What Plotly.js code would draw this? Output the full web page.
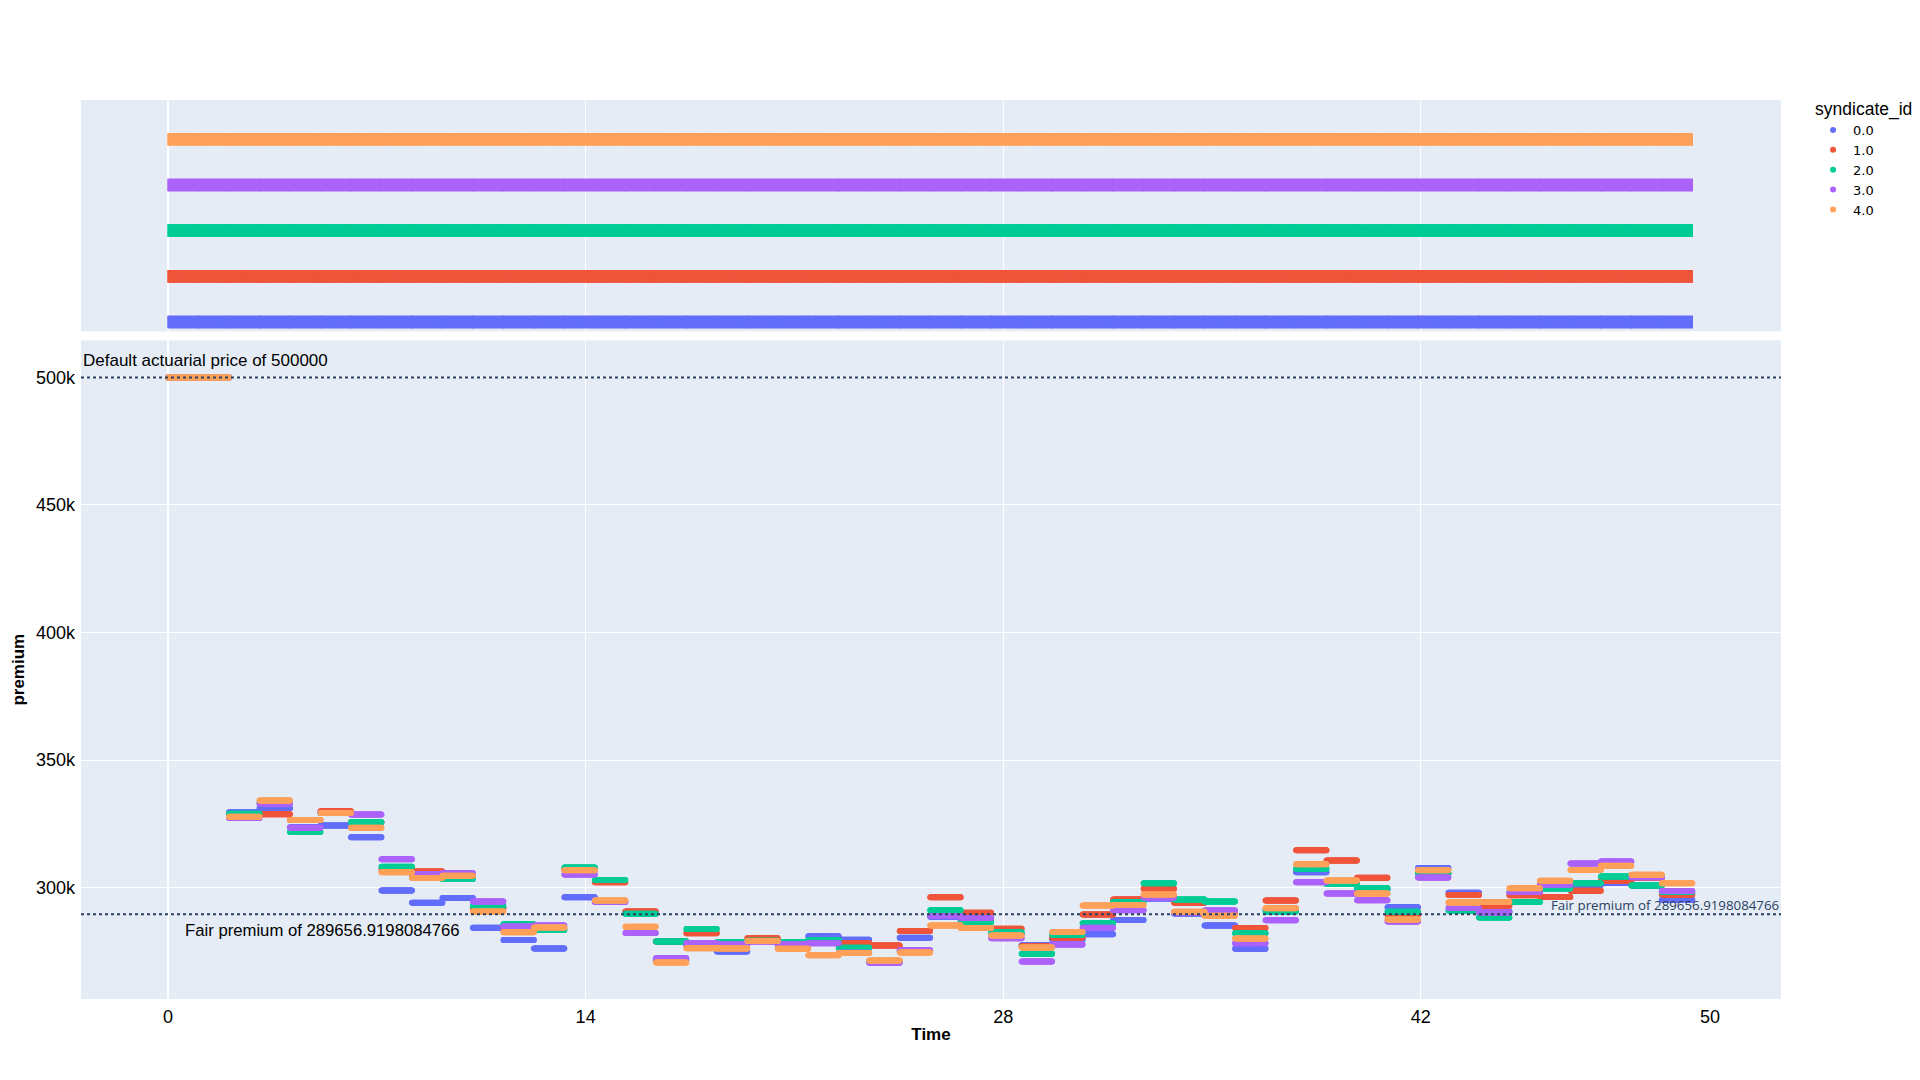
<!DOCTYPE html>
<html>
<head>
<meta charset="utf-8">
<script src="https://cdn.plot.ly/plotly-3.0.1.min.js"></script>
<style>html,body{margin:0;padding:0;background:#fff;}#chart{width:1920px;height:1080px;}</style>
</head>
<body>
<div id="chart"></div>
<script>
// ---- data ----
const syndicateNames = ['0.0', '1.0', '2.0', '3.0', '4.0'];
const syndicateIds = [0, 1, 2, 3, 4];
const colors = ['#636efa', '#EF553B', '#00cc96', '#ab63fa', '#FFA15A'];
const daysPerYear = 365;

// premium per simulated year (years 0..49)
const premium0 = [500000, 500000, 329600, 331200, 323700, 324400, 319800, 298900, 294100, 296000,
  284300, 279500, 276200, 296300, 294600, 290200, 271600, 277400, 275000, 279200,
  277600, 281000, 279600, 271100, 280400, 288600, 287000, 281700, 277500, 279700,
  281800, 287400, 295800, 289900, 285200, 276100, 291500, 306100, 302100, 299300,
  292400, 307700, 298000, 290800, 297900, 300600, 301100, 301900, 300900, 295300];
const premium1 = [500000, 500000, 328300, 328800, 326500, 330000, 325700, 307100, 306400, 304500,
  292000, 284300, 283900, 307100, 302200, 290700, 278900, 282200, 277800, 280200,
  278200, 278400, 278200, 277400, 283000, 296300, 290200, 283900, 277100, 280500,
  289500, 295400, 299600, 294100, 289500, 284200, 295000, 314700, 310700, 303900,
  289400, 305700, 297200, 292900, 297100, 296400, 298800, 302700, 303900, 297400];
const premium2 = [500000, 500000, 329000, 333300, 321800, 329300, 325700, 308200, 304300, 303400,
  292800, 285700, 283400, 307900, 303000, 289800, 278900, 283800, 278600, 279200,
  278700, 279500, 276500, 271200, 275200, 291200, 286500, 282600, 274100, 281600,
  286100, 294400, 301800, 295400, 294600, 282200, 290700, 307400, 301500, 299800,
  290600, 305600, 291100, 288300, 294400, 299700, 301800, 304400, 300900, 298300];
const premium3 = [500000, 500000, 327300, 332900, 323500, 329300, 328700, 311200, 305400, 305700,
  294600, 284800, 285200, 305200, 294400, 282300, 272400, 278200, 277800, 278900,
  277900, 278200, 274500, 270600, 275500, 288900, 288100, 280200, 271100, 277800,
  284300, 291200, 296200, 290300, 291100, 278200, 287300, 302200, 297700, 295100,
  286800, 304000, 292100, 290300, 298300, 301300, 309500, 310300, 304100, 298700];
const premium4 = [500000, 500000, 327800, 334200, 326500, 329300, 323500, 306100, 303800, 304700,
  290700, 282600, 284400, 306900, 295000, 284700, 270700, 276300, 276200, 279100,
  276100, 273500, 274400, 271500, 274600, 285200, 284200, 281300, 276600, 282700,
  293000, 293200, 297400, 290600, 289000, 280100, 292000, 309200, 302800, 297700,
  287600, 306900, 294200, 294400, 299800, 302700, 307000, 308600, 305100, 301800];
const premiums = [premium0, premium1, premium2, premium3, premium4];

const defaultPrice = 500000;
const fairPremium = 289656.9198084766;

// x tick labels
const tickDays = [0, 5000, 10000, 15000];
const tickLabels = ['0', '14', '28', '42'];
const lastLabel = '50';
const lastLabelDay = 18460;

// ---- expand yearly premiums into daily samples (each year is a flat step) ----
const STRIDE = 7;
function expand(values) {
  const xs = [], ys = [];
  values.forEach((v, k) => {
    for (let d = 0; d < daysPerYear; d += STRIDE) { xs.push(k * daysPerYear + d); ys.push(v); }
    xs.push(k * daysPerYear + daysPerYear - 1); ys.push(v);
  });
  return {xs, ys};
}

const traces = [];
premiums.forEach((vals, i) => {
  const e = expand(vals);
  traces.push({
    type: 'scatter', mode: 'markers', x: e.xs, y: e.ys,
    name: syndicateNames[i], legendgroup: syndicateNames[i],
    marker: {color: colors[i], size: 6},
    xaxis: 'x', yaxis: 'y', hoverinfo: 'skip'
  });
});
premiums.forEach((vals, i) => {
  const e = expand(vals);
  traces.push({
    type: 'scatter', mode: 'markers', x: e.xs, y: e.xs.map(() => syndicateIds[i]),
    name: syndicateNames[i], legendgroup: syndicateNames[i], showlegend: false,
    marker: {color: colors[i], size: 9, symbol: 'line-ns-open', line: {color: colors[i], width: 1.5}},
    xaxis: 'x2', yaxis: 'y2', hoverinfo: 'skip'
  });
});

const baseFont = 'Liberation Sans, Arial, Helvetica, sans-serif';
const layout = {
  width: 1920, height: 1080,
  margin: {l: 81, r: 139, t: 100, b: 81, autoexpand: false},
  paper_bgcolor: 'white', plot_bgcolor: '#E5ECF6',
  font: {family: baseFont, size: 16, color: 'black'},
  showlegend: true,
  legend: {
    title: {text: 'syndicate_id', font: {family: baseFont, size: 17.5, color: 'black'}},
    font: {family: 'DejaVu Sans, sans-serif', size: 13, color: 'black'},
    xref: 'container', x: 0.9443, y: 1.0087, xanchor: 'left', yanchor: 'top', tracegroupgap: 0
  },
  xaxis: {
    domain: [0, 1], anchor: 'y',
    range: [-1042, 19312],
    tickmode: 'array', tickvals: tickDays, ticktext: tickLabels,
    tickfont: {size: 18, color: 'black'}, ticklabelstandoff: 5,
    gridcolor: 'white', zeroline: true, zerolinecolor: 'white', zerolinewidth: 2,
    showline: false, ticks: '',
    title: {text: '<b>Time</b>', font: {size: 17, color: 'black'}, standoff: 2}
  },
  xaxis2: {
    domain: [0, 1], anchor: 'y2', matches: 'x',
    tickmode: 'array', tickvals: tickDays, ticktext: tickLabels,
    showticklabels: false, gridcolor: 'white',
    zeroline: true, zerolinecolor: 'white', zerolinewidth: 2, ticks: ''
  },
  yaxis: {
    domain: [0, 0.7326], anchor: 'x',
    range: [256400, 514500], dtick: 50000, tick0: 0,
    tickfont: {size: 18, color: 'black'}, ticklabelstandoff: 5,
    gridcolor: 'white', zeroline: false, ticks: '',
    title: {text: '<b>premium</b>', font: {size: 17, color: 'black'}, standoff: 6}
  },
  yaxis2: {
    domain: [0.7426, 1], anchor: 'x2',
    range: [-0.205, 4.86], showticklabels: false, showgrid: false, zeroline: false, ticks: ''
  },
  shapes: [
    {type: 'line', xref: 'paper', x0: 0, x1: 1, yref: 'y', y0: defaultPrice, y1: defaultPrice,
     line: {color: '#2a3f5f', width: 2, dash: 'dot'}},
    {type: 'line', xref: 'paper', x0: 0, x1: 1, yref: 'y', y0: fairPremium, y1: fairPremium,
     line: {color: '#2a3f5f', width: 2, dash: 'dot'}}
  ],
  annotations: [
    {xref: 'paper', x: 0, xanchor: 'left', yref: 'y', y: defaultPrice, yanchor: 'bottom', yshift: 5,
     text: 'Default actuarial price of ' + defaultPrice, showarrow: false,
     font: {size: 17, color: 'black'}},
    {xref: 'paper', x: 0.06, xanchor: 'left', yref: 'y', y: fairPremium, yanchor: 'top', yshift: -5,
     text: 'Fair premium of ' + fairPremium, showarrow: false,
     font: {size: 16.7, color: 'black'}},
    {xref: 'paper', x: 1, xanchor: 'right', yref: 'y', y: fairPremium, yanchor: 'bottom', yshift: -2,
     text: 'Fair premium of ' + fairPremium, showarrow: false,
     font: {family: 'Open Sans, sans-serif', size: 13.3, color: '#2a3f5f'}},
    {xref: 'x', x: lastLabelDay, xanchor: 'center', yref: 'paper', y: 0, yanchor: 'top', yshift: -6,
     text: lastLabel, showarrow: false, font: {size: 18, color: 'black'}}
  ]
};

Plotly.newPlot('chart', traces, layout, {displayModeBar: false, staticPlot: true});
</script>
</body>
</html>
